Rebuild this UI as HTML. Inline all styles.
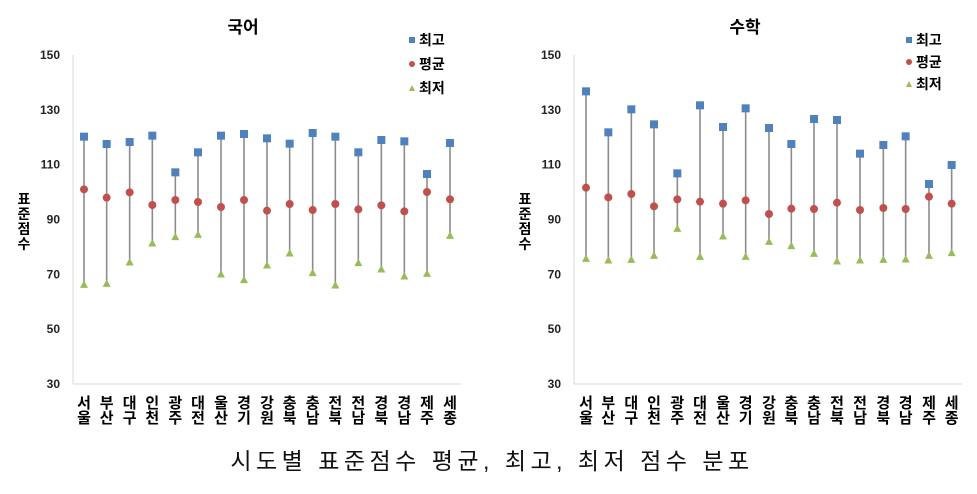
<!DOCTYPE html><html><head><meta charset="utf-8"><style>
body{margin:0;background:#fff;width:977px;height:489px;overflow:hidden}
svg{font-family:"Liberation Sans","Noto Sans CJK KR",sans-serif}
</style></head><body>
<svg id="s" width="977" height="489" xmlns="http://www.w3.org/2000/svg"></svg>
<script>
const s=document.getElementById('s');let h='';
const cats=['서울','부산','대구','인천','광주','대전','울산','경기','강원','충북','충남','전북','전남','경북','경남','제주','세종'];
function chart(ox,axisX,xs,mx,av,mn,title,titleX,legX,legY){
 h+=`<line x1="${axisX}" y1="55" x2="${axisX}" y2="384" stroke="#d9d9d9"/><line x1="${axisX}" y1="384" x2="${axisX+388}" y2="384" stroke="#d9d9d9"/>`;
 [150,130,110,90,70,50,30].forEach((v,i)=>{const y=55+i*54.83;h+=`<text x="${axisX-13}" y="${y+4}" font-size="12" font-weight="bold" text-anchor="end" fill="#222">${v}</text>`});
 const tx=axisX-49;['표','준','점','수'].forEach((c,i)=>h+=`<text x="${tx}" y="${204+i*15}" font-size="14" font-weight="bold" text-anchor="middle">${c}</text>`);
 h+=`<text x="${titleX}" y="33" font-size="17" font-weight="bold" text-anchor="middle">${title}</text>`;
 xs.forEach((zx,i)=>{const x=ox+zx/3,a=mx[i]/3,b=av[i]/3,c=mn[i]/3;
  h+=`<line x1="${x}" y1="${a}" x2="${x}" y2="${c}" stroke="#8c8c8c" stroke-width="1.6"/>`;
  h+=`<rect x="${x-4}" y="${a-4}" width="8" height="8" fill="#4f81bd"/>`;
  h+=`<circle cx="${x}" cy="${b}" r="4" fill="#c0504d"/>`;
  h+=`<polygon points="${x-4},${c+3.5} ${x+4},${c+3.5} ${x},${c-4}" fill="#9bbb59"/>`;
  h+=`<text x="${x}" y="408" font-size="15" font-weight="bold" text-anchor="middle">${cats[i][0]}</text><text x="${x}" y="423" font-size="15" font-weight="bold" text-anchor="middle">${cats[i][1]}</text>`;
 });
 const L=[['최고','r'],['평균','c'],['최저','t']];
 L.forEach((l,i)=>{const y=legY[i],x=legX;
  if(l[1]=='r')h+=`<rect x="${x-3}" y="${y-3}" width="6" height="6" fill="#4f81bd"/>`;
  else if(l[1]=='c')h+=`<circle cx="${x}" cy="${y}" r="3" fill="#c0504d"/>`;
  else h+=`<polygon points="${x-3},${y+3} ${x+3},${y+3} ${x},${y-3}" fill="#9bbb59"/>`;
  h+=`<text x="${x+7}" y="${y+5}" font-size="14" font-weight="bold">${l[0]}</text>`});
}
const xsL=[252,320,389,457,526,594,663,732,801,869,938,1006,1075,1144,1213,1281,1350];
chart(0,73,xsL,[410,432,426,407,517,457,407,402,415,431,399,410,457,420,424,522,429],[568,593,577,615,600,606,621,600,632,612,630,612,628,616,634,576,598],[853,850,786,729,710,703,822,839,795,759,818,855,788,807,828,820,706],'국어',243,412,[40,64,88]);
chart(490,574,[288,355,424,492,562,630,699,767,837,904,972,1041,1110,1180,1247,1317,1385],[274,397,328,373,520,316,381,325,384,432,357,360,461,435,409,552,495],[563,592,582,619,598,605,611,601,642,626,627,608,630,624,627,590,611],[775,780,778,766,685,769,708,769,724,737,760,783,780,778,777,766,758],'수학',745,909,[40,62,84]);
h+=`<text x="492" y="469" font-size="23" text-anchor="middle" letter-spacing="4.5" fill="#111">시도별 표준점수 평균, 최고, 최저 점수 분포</text>`;
s.innerHTML=h;
</script></body></html>
